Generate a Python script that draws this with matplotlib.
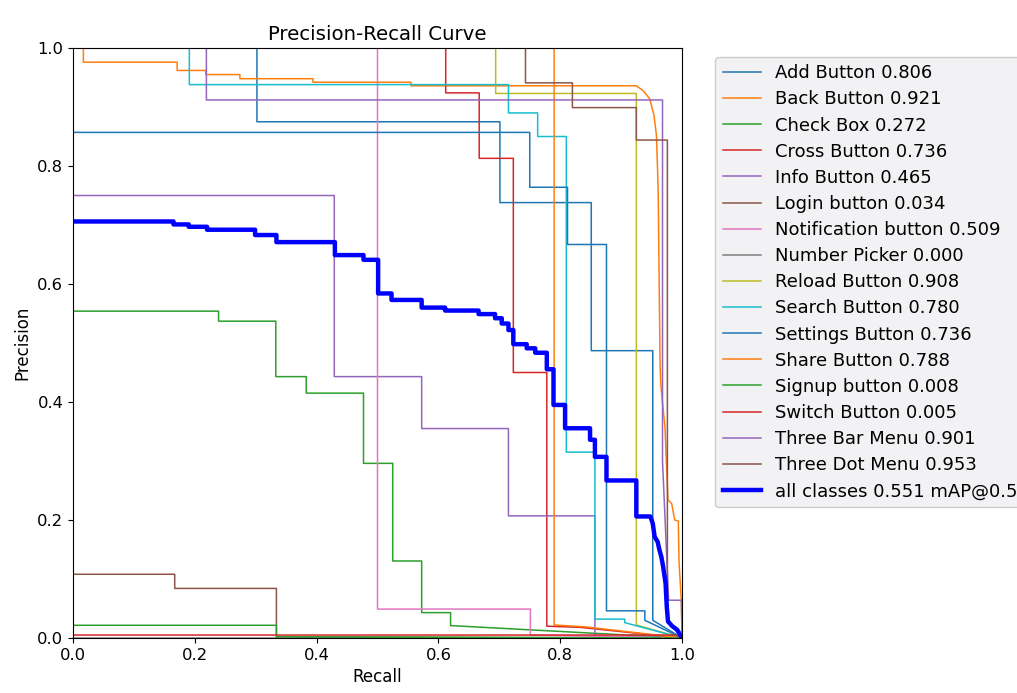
import matplotlib
matplotlib.use("Agg")
import matplotlib.pyplot as plt

# class names and AP values (legend labels)
class_names = [
    "Add Button", "Back Button", "Check Box", "Cross Button", "Info Button",
    "Login button", "Notification button", "Number Picker", "Reload Button",
    "Search Button", "Settings Button", "Share Button", "Signup button",
    "Switch Button", "Three Bar Menu", "Three Dot Menu",
]
class_ap = [0.806, 0.921, 0.272, 0.736, 0.465, 0.034, 0.509, 0.000, 0.908,
            0.780, 0.736, 0.788, 0.008, 0.005, 0.901, 0.953]
map50 = 0.551

# curve vertices (recall, precision)
add_r = [0, 0.302, 0.302, 0.701, 0.701, 0.851, 0.851, 0.952, 0.952, 1.0]
add_p = [1.0, 1.0, 0.875, 0.875, 0.738, 0.738, 0.487, 0.487, 0.030, 0.0]

back_r = [0, 0.017, 0.017, 0.171, 0.171, 0.218, 0.218, 0.274, 0.274, 0.394,
          0.394, 0.555, 0.555, 0.925, 0.936, 0.947, 0.954, 0.958, 0.960,
          0.961, 0.964, 0.965, 0.968, 0.972, 0.977, 0.983, 0.988, 0.994,
          0.995, 0.999, 1.0]
back_p = [1.0, 1.0, 0.976, 0.976, 0.962, 0.962, 0.955, 0.955, 0.948, 0.948,
          0.942, 0.942, 0.936, 0.936, 0.928, 0.914, 0.886, 0.852, 0.790,
          0.751, 0.463, 0.432, 0.398, 0.358, 0.234, 0.228, 0.200, 0.198,
          0.132, 0.060, 0.0]

checkbox_r = [0, 0.239, 0.239, 0.333, 0.333, 0.383, 0.383, 0.477, 0.477,
              0.525, 0.525, 0.5725, 0.5725, 0.620, 0.620, 1.0]
checkbox_p = [0.554, 0.554, 0.537, 0.537, 0.443, 0.443, 0.415, 0.415, 0.296,
              0.296, 0.1305, 0.1305, 0.043, 0.043, 0.021, 0.0]

cross_r = [0, 0.612, 0.612, 0.667, 0.667, 0.723, 0.723, 0.778, 0.778, 0.833, 1.0]
cross_p = [1.0, 1.0, 0.924, 0.924, 0.813, 0.813, 0.450, 0.450, 0.020, 0.018, 0.0]

info_r = [0, 0.429, 0.429, 0.5725, 0.5725, 0.715, 0.715, 0.857, 0.857, 1.0]
info_p = [0.750, 0.750, 0.443, 0.443, 0.355, 0.355, 0.207, 0.207, 0.003, 0.0]

login_r = [0, 0.167, 0.167, 0.334, 0.334, 1.0]
login_p = [0.108, 0.108, 0.084, 0.084, 0.002, 0.0]

notif_r = [0, 0.500, 0.500, 0.751, 0.751, 1.0]
notif_p = [1.0, 1.0, 0.049, 0.049, 0.005, 0.0]

picker_r = [0, 1.0]
picker_p = [0.0, 0.0]

reload_r = [0, 0.694, 0.694, 0.925, 0.925, 1.0]
reload_p = [1.0, 1.0, 0.923, 0.923, 0.022, 0.0]

search_r = [0, 0.191, 0.191, 0.715, 0.715, 0.763, 0.763, 0.810, 0.810,
            0.857, 0.857, 0.906, 0.906, 1.0]
search_p = [1.0, 1.0, 0.938, 0.938, 0.890, 0.890, 0.850, 0.850, 0.315,
            0.315, 0.032, 0.032, 0.026, 0.0]

settings_r = [0, 0.750, 0.750, 0.812, 0.812, 0.876, 0.876, 0.939, 0.939, 1.0]
settings_p = [0.857, 0.857, 0.764, 0.764, 0.667, 0.667, 0.046, 0.046, 0.030, 0.0]

share_r = [0, 0.790, 0.790, 0.840, 1.0]
share_p = [1.0, 1.0, 0.022, 0.019, 0.0]

signup_r = [0, 0.334, 0.334, 1.0]
signup_p = [0.0215, 0.0215, 0.002, 0.0]

switch_r = [0, 0.99, 1.0]
switch_p = [0.005, 0.005, 0.0]

threebar_r = [0, 0.219, 0.219, 0.968, 0.968, 0.978, 0.999, 1.0]
threebar_p = [1.0, 1.0, 0.912, 0.912, 0.300, 0.064, 0.064, 0.0]

threedot_r = [0, 0.743, 0.743, 0.820, 0.820, 0.925, 0.925, 0.976, 0.976, 1.0]
threedot_p = [1.0, 1.0, 0.941, 0.941, 0.899, 0.899, 0.844, 0.844, 0.030, 0.0]

# mean curve over all classes
all_r = [0, 0.165, 0.165, 0.19, 0.19, 0.22, 0.22, 0.299, 0.299, 0.334, 0.334,
         0.430, 0.430, 0.477, 0.477, 0.501, 0.501, 0.523, 0.523, 0.5725,
         0.5725, 0.611, 0.611, 0.666, 0.666, 0.693, 0.693, 0.704, 0.704,
         0.715, 0.715, 0.723, 0.723, 0.745, 0.745, 0.759, 0.759, 0.778,
         0.778, 0.789, 0.789, 0.808, 0.808, 0.849, 0.849, 0.857, 0.857,
         0.876, 0.876, 0.925, 0.925, 0.948, 0.952, 0.955, 0.960, 0.963,
         0.966, 0.969, 0.973, 0.975, 0.977, 0.984, 0.992, 1.0]
all_p = [0.706, 0.706, 0.701, 0.701, 0.697, 0.697, 0.692, 0.692, 0.683, 0.683,
         0.671, 0.671, 0.649, 0.649, 0.641, 0.641, 0.584, 0.584, 0.573, 0.573,
         0.560, 0.560, 0.555, 0.555, 0.549, 0.549, 0.542, 0.542, 0.533,
         0.533, 0.522, 0.522, 0.498, 0.498, 0.491, 0.491, 0.4835, 0.4835,
         0.4555, 0.4555, 0.395, 0.395, 0.3555, 0.3555, 0.336, 0.336, 0.307,
         0.307, 0.267, 0.267, 0.206, 0.206, 0.194, 0.172, 0.163, 0.149,
         0.138, 0.121, 0.093, 0.053, 0.028, 0.020, 0.014, 0.0]

curves = [
    (add_r, add_p), (back_r, back_p), (checkbox_r, checkbox_p),
    (cross_r, cross_p), (info_r, info_p), (login_r, login_p),
    (notif_r, notif_p), (picker_r, picker_p), (reload_r, reload_p),
    (search_r, search_p), (settings_r, settings_p), (share_r, share_p),
    (signup_r, signup_p), (switch_r, switch_p), (threebar_r, threebar_p),
    (threedot_r, threedot_p),
]

fig = plt.figure(figsize=(10.17, 6.93), dpi=100)
ax = fig.add_axes([0.0718, 0.0794, 0.5988, 0.8513])

for name, ap, (r, p) in zip(class_names, class_ap, curves):
    ax.plot(r, p, linewidth=1.1, label=f"{name} {ap:.3f}")

ax.plot(all_r, all_p, linewidth=3.2, color="blue",
        label=f"all classes {map50:.3f} mAP@0.5")

ax.set_xlim(0, 1)
ax.set_ylim(0, 1)
ax.set_xlabel("Recall", fontsize=12)
ax.set_ylabel("Precision", fontsize=12)
ax.set_title("Precision-Recall Curve", fontsize=14.2)
ax.tick_params(labelsize=11.8)

leg = ax.legend(bbox_to_anchor=(1.04, 1), loc="upper left", fontsize=13.0,
                labelspacing=0.45, handlelength=2.1, facecolor="#f2f2f4",
                edgecolor="#cccccc", framealpha=1)

fig.savefig("out.png", dpi=100)
